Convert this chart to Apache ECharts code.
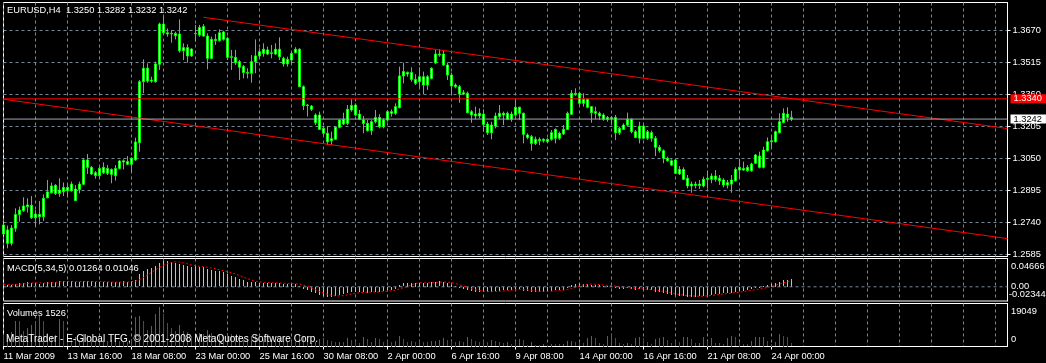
<!DOCTYPE html>
<html><head><meta charset="utf-8">
<script src="https://cdn.jsdelivr.net/npm/echarts@6/dist/echarts.min.js"></script>
<style>html,body{margin:0;padding:0;background:#000;}#c{width:1046px;height:363px;}</style>
</head><body><div id="c"></div>
<script>
const symbolName = 'EURUSD', timeframe = 'H4';
const tickLabels = ['11 Mar 2009','13 Mar 16:00','18 Mar 08:00','23 Mar 00:00','25 Mar 16:00','30 Mar 08:00','2 Apr 00:00','6 Apr 16:00','9 Apr 08:00','14 Apr 00:00','16 Apr 16:00','21 Apr 08:00','24 Apr 00:00'];
const priceTicks = [1.2585,1.2740,1.2895,1.3050,1.3205,1.3360,1.3515,1.3670];
const macdTicks = [-0.02344, 0, 0.04666];
const volTicks = [0, 19049];
const levelLine = 1.3340;
const bidLine = 1.3242;
const upperTrend = [[50,1.3735],[251,1.3196]];
const lowerTrend = [[0,1.3338],[251,1.2663]];

const opens = [
1.2729,1.2705,1.2640,1.2713,1.2780,1.2798,1.2818,1.2824,1.2764,1.2769,
1.2769,1.2861,1.2885,1.2921,1.2882,1.2890,1.2895,1.2895,1.2903,1.2901,
1.2926,1.3044,1.3008,1.2982,1.2968,1.3008,1.2979,1.2998,1.2968,1.3003,
1.3034,1.3036,1.3023,1.3044,1.3128,1.3423,1.3488,1.3426,1.3423,1.3507,
1.3702,1.3660,1.3654,1.3657,1.3654,1.3573,1.3588,1.3548,1.3655,1.3649,
1.3690,1.3644,1.3536,1.3628,1.3622,1.3664,1.3633,1.3541,1.3541,1.3520,
1.3496,1.3468,1.3464,1.3520,1.3548,1.3560,1.3577,1.3560,1.3557,1.3580,
1.3536,1.3509,1.3528,1.3563,1.3580,1.3399,1.3307,1.3305,1.3262,1.3262,
1.3197,1.3173,1.3137,1.3144,1.3202,1.3241,1.3221,1.3286,1.3310,1.3266,
1.3237,1.3221,1.3186,1.3229,1.3250,1.3205,1.3237,1.3278,1.3270,1.3297,
1.3451,1.3468,1.3467,1.3434,1.3423,1.3447,1.3407,1.3439,1.3514,1.3557,
1.3557,1.3504,1.3455,1.3407,1.3399,1.3363,1.3367,1.3262,1.3266,1.3257,
1.3266,1.3218,1.3176,1.3208,1.3254,1.3270,1.3270,1.3241,1.3262,1.3299,
1.3270,1.3165,1.3157,1.3124,1.3144,1.3137,1.3144,1.3144,1.3149,1.3173,
1.3170,1.3192,1.3265,1.3367,1.3367,1.3318,1.3338,1.3302,1.3270,1.3270,
1.3262,1.3241,1.3249,1.3250,1.3176,1.3192,1.3213,1.3241,1.3181,1.3149,
1.3208,1.3149,1.3176,1.3149,1.3105,1.3089,1.3052,1.3040,1.3044,1.2976,
1.2998,1.2955,1.2918,1.2927,1.2920,1.2918,1.2950,1.2950,1.2966,1.2955,
1.2947,1.2923,1.2927,1.2943,1.2995,1.3003,1.2992,1.2992,1.3028,1.3063,
1.3008,1.3089,1.3132,1.3132,1.3176,1.3225,1.3266,1.3250];
const closes = [
1.2685,1.2640,1.2714,1.2780,1.2801,1.2821,1.2826,1.2764,1.2782,1.2780,
1.2858,1.2889,1.2918,1.2882,1.2898,1.2911,1.2911,1.2927,1.2847,1.2927,
1.3044,1.3008,1.2976,1.2968,1.3003,1.2982,1.3003,1.2974,1.3003,1.3039,
1.3040,1.3023,1.3052,1.3131,1.3423,1.3488,1.3426,1.3431,1.3509,1.3702,
1.3660,1.3654,1.3657,1.3646,1.3573,1.3588,1.3548,1.3581,1.3657,1.3686,
1.3644,1.3536,1.3628,1.3622,1.3660,1.3628,1.3541,1.3544,1.3515,1.3493,
1.3467,1.3464,1.3520,1.3548,1.3568,1.3580,1.3557,1.3563,1.3580,1.3544,
1.3509,1.3531,1.3560,1.3580,1.3399,1.3307,1.3310,1.3289,1.3224,1.3192,
1.3173,1.3132,1.3147,1.3202,1.3237,1.3218,1.3289,1.3308,1.3262,1.3241,
1.3221,1.3186,1.3229,1.3250,1.3205,1.3237,1.3278,1.3270,1.3302,1.3451,
1.3472,1.3460,1.3434,1.3415,1.3447,1.3407,1.3447,1.3488,1.3557,1.3553,
1.3504,1.3455,1.3402,1.3399,1.3363,1.3370,1.3273,1.3278,1.3257,1.3270,
1.3216,1.3176,1.3213,1.3257,1.3270,1.3262,1.3241,1.3266,1.3299,1.3270,
1.3168,1.3153,1.3124,1.3144,1.3137,1.3144,1.3132,1.3176,1.3192,1.3149,
1.3192,1.3270,1.3367,1.3362,1.3318,1.3338,1.3299,1.3273,1.3278,1.3257,
1.3241,1.3249,1.3243,1.3176,1.3197,1.3213,1.3241,1.3181,1.3153,1.3208,
1.3149,1.3181,1.3149,1.3105,1.3089,1.3052,1.3040,1.3019,1.2979,1.2998,
1.2950,1.2918,1.2927,1.2920,1.2927,1.2950,1.2955,1.2966,1.2950,1.2943,
1.2923,1.2934,1.2947,1.2998,1.3008,1.2995,1.3008,1.3024,1.3068,1.3008,
1.3092,1.3132,1.3137,1.3181,1.3229,1.3270,1.3250,1.3242];
const lows = [
1.2680,1.2616,1.2629,1.2696,1.2745,1.2793,1.2789,1.2758,1.2724,1.2732,
1.2748,1.2858,1.2882,1.2874,1.2866,1.2869,1.2863,1.2890,1.2845,1.2882,
1.2922,1.2976,1.2971,1.2953,1.2955,1.2976,1.2971,1.2931,1.2944,1.2998,
1.2998,1.3019,1.2982,1.3040,1.3084,1.3367,1.3418,1.3418,1.3418,1.3480,
1.3649,1.3641,1.3612,1.3628,1.3564,1.3528,1.3515,1.3544,1.3617,1.3641,
1.3641,1.3483,1.3531,1.3601,1.3617,1.3622,1.3528,1.3480,1.3504,1.3431,
1.3439,1.3439,1.3418,1.3464,1.3536,1.3544,1.3552,1.3536,1.3552,1.3528,
1.3496,1.3496,1.3512,1.3560,1.3396,1.3286,1.3254,1.3281,1.3213,1.3189,
1.3165,1.3116,1.3116,1.3140,1.3197,1.3213,1.3213,1.3278,1.3257,1.3237,
1.3173,1.3181,1.3165,1.3221,1.3197,1.3197,1.3229,1.3254,1.3262,1.3294,
1.3415,1.3447,1.3423,1.3407,1.3391,1.3363,1.3383,1.3434,1.3509,1.3544,
1.3500,1.3431,1.3358,1.3391,1.3321,1.3358,1.3270,1.3224,1.3241,1.3245,
1.3181,1.3165,1.3144,1.3197,1.3241,1.3213,1.3237,1.3229,1.3254,1.3237,
1.3124,1.3144,1.3089,1.3116,1.3116,1.3128,1.3128,1.3137,1.3124,1.3141,
1.3165,1.3189,1.3262,1.3354,1.3310,1.3302,1.3294,1.3224,1.3241,1.3237,
1.3234,1.3229,1.3221,1.3140,1.3165,1.3189,1.3205,1.3173,1.3149,1.3124,
1.3144,1.3141,1.3132,1.3063,1.3079,1.3028,1.3036,1.3014,1.2976,1.2971,
1.2947,1.2906,1.2885,1.2906,1.2903,1.2911,1.2906,1.2931,1.2939,1.2923,
1.2911,1.2906,1.2885,1.2939,1.2955,1.2992,1.2987,1.2987,1.3024,1.3003,
1.3003,1.3084,1.3100,1.3128,1.3173,1.3221,1.3229,1.3232];
const highs = [
1.2737,1.2726,1.2729,1.2810,1.2818,1.2863,1.2858,1.2869,1.2801,1.2845,
1.2877,1.2947,1.2934,1.2927,1.2955,1.2935,1.2926,1.2939,1.2922,1.2939,
1.3047,1.3073,1.3015,1.2990,1.3011,1.3032,1.3019,1.3003,1.3019,1.3044,
1.3047,1.3063,1.3057,1.3152,1.3431,1.3531,1.3512,1.3447,1.3520,1.3709,
1.3738,1.3681,1.3673,1.3665,1.3725,1.3609,1.3604,1.3585,1.3698,1.3698,
1.3702,1.3657,1.3641,1.3654,1.3677,1.3670,1.3641,1.3577,1.3577,1.3528,
1.3504,1.3488,1.3552,1.3628,1.3585,1.3609,1.3593,1.3601,1.3609,1.3638,
1.3544,1.3544,1.3568,1.3590,1.3585,1.3405,1.3315,1.3310,1.3270,1.3278,
1.3208,1.3208,1.3181,1.3208,1.3240,1.3273,1.3310,1.3338,1.3318,1.3286,
1.3257,1.3237,1.3237,1.3286,1.3266,1.3245,1.3286,1.3289,1.3318,1.3496,
1.3515,1.3472,1.3493,1.3459,1.3493,1.3472,1.3455,1.3493,1.3577,1.3580,
1.3577,1.3515,1.3467,1.3415,1.3407,1.3383,1.3375,1.3286,1.3302,1.3294,
1.3289,1.3229,1.3229,1.3273,1.3310,1.3278,1.3278,1.3278,1.3338,1.3302,
1.3273,1.3173,1.3165,1.3157,1.3153,1.3149,1.3149,1.3189,1.3197,1.3181,
1.3213,1.3278,1.3383,1.3391,1.3375,1.3367,1.3342,1.3305,1.3302,1.3278,
1.3270,1.3257,1.3257,1.3262,1.3205,1.3221,1.3273,1.3245,1.3189,1.3229,
1.3213,1.3189,1.3186,1.3160,1.3116,1.3095,1.3060,1.3047,1.3047,1.3014,
1.3008,1.2971,1.2939,1.2939,1.2947,1.2963,1.2992,1.2979,1.2995,1.2971,
1.2955,1.2947,1.2971,1.3008,1.3047,1.3036,1.3019,1.3031,1.3073,1.3084,
1.3108,1.3153,1.3165,1.3186,1.3270,1.3294,1.3299,1.3282];
const macdMain = [
0.0040,0.0030,0.0035,0.0050,0.0060,0.0070,0.0075,0.0065,0.0055,0.0050,
0.0060,0.0075,0.0085,0.0085,0.0088,0.0090,0.0090,0.0092,0.0075,0.0078,
0.0095,0.0098,0.0090,0.0080,0.0080,0.0078,0.0078,0.0072,0.0075,0.0082,
0.0088,0.0085,0.0090,0.0115,0.0205,0.0265,0.0290,0.0310,0.0340,0.0400,
0.0430,0.0425,0.0415,0.0400,0.0375,0.0360,0.0340,0.0330,0.0335,0.0330,
0.0320,0.0290,0.0280,0.0265,0.0255,0.0240,0.0210,0.0185,0.0160,0.0130,
0.0105,0.0085,0.0075,0.0072,0.0070,0.0068,0.0065,0.0062,0.0062,0.0058,
0.0050,0.0048,0.0050,0.0052,0.0020,-0.0025,-0.0055,-0.0075,-0.0105,-0.0130,
-0.0145,-0.0160,-0.0160,-0.0150,-0.0135,-0.0120,-0.0105,-0.0090,-0.0088,-0.0085,
-0.0088,-0.0092,-0.0085,-0.0078,-0.0075,-0.0070,-0.0055,-0.0045,-0.0030,0.0025,
0.0055,0.0065,0.0068,0.0065,0.0068,0.0062,0.0065,0.0075,0.0085,0.0090,
0.0080,0.0060,0.0030,0.0010,-0.0015,-0.0025,-0.0055,-0.0068,-0.0075,-0.0078,
-0.0082,-0.0085,-0.0080,-0.0068,-0.0058,-0.0055,-0.0055,-0.0050,-0.0035,-0.0035,
-0.0060,-0.0072,-0.0082,-0.0080,-0.0078,-0.0075,-0.0072,-0.0062,-0.0055,-0.0052,
-0.0042,-0.0015,0.0025,0.0045,0.0048,0.0050,0.0045,0.0035,0.0030,0.0025,
0.0018,0.0012,0.0008,-0.0015,-0.0025,-0.0025,-0.0015,-0.0030,-0.0045,-0.0040,
-0.0050,-0.0050,-0.0055,-0.0075,-0.0088,-0.0105,-0.0115,-0.0125,-0.0140,-0.0145,
-0.0150,-0.0158,-0.0160,-0.0158,-0.0152,-0.0145,-0.0135,-0.0125,-0.0118,-0.0110,
-0.0105,-0.0098,-0.0092,-0.0078,-0.0068,-0.0058,-0.0050,-0.0040,-0.0020,-0.0015,
0.0005,0.0030,0.0045,0.0060,0.0085,0.0105,0.0118,0.01264];
const macdSignal = [
0.0042,0.0040,0.0038,0.0040,0.0043,0.0049,0.0054,0.0064,0.0065,0.0063,
0.0061,0.0061,0.0065,0.0072,0.0081,0.0085,0.0088,0.0089,0.0087,0.0085,
0.0086,0.0088,0.0087,0.0087,0.0089,0.0086,0.0081,0.0078,0.0077,0.0077,
0.0079,0.0080,0.0086,0.0092,0.0117,0.0153,0.0193,0.0237,0.0282,0.0321,
0.0354,0.0381,0.0402,0.0414,0.0409,0.0395,0.0378,0.0361,0.0348,0.0339,
0.0331,0.0321,0.0309,0.0297,0.0282,0.0266,0.0250,0.0231,0.0210,0.0185,
0.0158,0.0133,0.0111,0.0093,0.0081,0.0074,0.0070,0.0067,0.0065,0.0063,
0.0059,0.0056,0.0054,0.0052,0.0044,0.0029,0.0008,-0.0017,-0.0048,-0.0078,
-0.0102,-0.0123,-0.0140,-0.0149,-0.0150,-0.0145,-0.0134,-0.0120,-0.0108,-0.0098,
-0.0091,-0.0089,-0.0088,-0.0086,-0.0084,-0.0080,-0.0073,-0.0065,-0.0055,-0.0035,
-0.0016,0.0006,0.0031,0.0056,0.0064,0.0066,0.0066,0.0067,0.0071,0.0077,
0.0079,0.0078,0.0069,0.0054,0.0033,0.0012,-0.0011,-0.0032,-0.0048,-0.0060,
-0.0072,-0.0078,-0.0080,-0.0079,-0.0075,-0.0069,-0.0063,-0.0057,-0.0051,-0.0046,
-0.0047,-0.0050,-0.0057,-0.0066,-0.0074,-0.0077,-0.0077,-0.0073,-0.0068,-0.0063,
-0.0057,-0.0045,-0.0028,-0.0008,0.0012,0.0031,0.0043,0.0045,0.0042,0.0037,
0.0031,0.0024,0.0019,0.0010,0.0000,-0.0009,-0.0014,-0.0022,-0.0026,-0.0031,
-0.0036,-0.0044,-0.0048,-0.0055,-0.0064,-0.0075,-0.0088,-0.0102,-0.0115,-0.0126,
-0.0137,-0.0144,-0.0151,-0.0154,-0.0156,-0.0155,-0.0150,-0.0143,-0.0135,-0.0127,
-0.0119,-0.0111,-0.0105,-0.0097,-0.0088,-0.0079,-0.0069,-0.0059,-0.0047,-0.0037,
-0.0026,-0.0012,0.0005,0.0025,0.0045,0.0065,0.0083,0.01046];
const volumes = [
5000,5700,6500,11500,11200,7000,8000,9500,11500,13500,
11500,6000,4500,5000,12000,11500,4500,3500,4000,3000,
5500,5000,3500,2500,3000,2800,2500,3000,2600,2400,
2200,2000,3500,13000,13500,11500,7500,9000,14500,17300,
14500,10500,8000,7000,9500,7000,6500,4500,5000,6000,
5500,7500,6000,4500,5000,4000,6000,5500,4500,5000,
3500,3000,4500,5000,3200,2800,2500,2800,2600,3500,
2500,2300,2500,2000,4500,4000,3000,1500,2000,3500,
3800,3000,2500,2000,2200,2000,3600,3000,2500,1500,
4000,3500,2000,3800,3200,2200,2800,2000,2500,4500,
3500,2000,2500,2000,2800,2200,1800,2500,2500,3000,
3600,2800,2500,2000,2400,1800,4000,3500,2500,2000,
3000,2200,2800,2400,2000,1500,1800,1300,2500,3300,
3000,800,1800,750,700,900,800,1200,1000,900,
1050,2250,2300,1800,1950,1500,3600,4500,3600,1500,
1300,4800,5400,3600,1500,1200,1500,1000,3900,4300,
3600,1800,1200,3300,3900,4300,2800,1500,2850,2000,
4000,4050,3400,1500,1550,4000,2500,3900,1500,1400,
900,3600,4800,4000,2000,1000,900,2500,4000,4050,
4300,2400,1200,1950,5400,4800,4300,1526];

const slotCount = 252;
const FONT = '"Liberation Sans", Arial, sans-serif';
const FS = 9.3;
const GRIDC = '#778899';
const slots = Array.from({length: slotCount}, (_, i) => String(i));
const lastSlot = slotCount - 1;
const ohlc = opens.map((o, i) => [o, closes[i], lows[i], highs[i]]);

const gridBase = {left: 3.5, width: 1004, show: true, borderColor: '#ffffff', borderWidth: 1, backgroundColor: 'transparent'};
function xAx(idx, bottom) {
  return {
    type: 'category', gridIndex: idx, data: slots, boundaryGap: false,
    axisLine: {show: bottom, lineStyle: {color: '#ffffff'}},
    axisTick: {show: bottom, length: 3, interval: (i) => i % 16 === 0 && i / 16 < tickLabels.length, lineStyle: {color: '#ffffff'}},
    axisLabel: {show: bottom, interval: (i) => i % 16 === 0 && i / 16 < tickLabels.length,
      formatter: (v) => tickLabels[Math.round(Number(v) / 16)] || '',
      align: 'left', color: '#ffffff', fontSize: FS, fontFamily: FONT, margin: 5},
    splitLine: {show: true, interval: 7, lineStyle: {color: GRIDC, type: [3, 3], width: 1}}
  };
}
function hLine(value, xi, yi, color, type, endLabel) {
  const s = {type: 'line', xAxisIndex: xi, yAxisIndex: yi, data: [[0, value], [lastSlot, value]], symbol: 'none', z: 5,
    silent: true, lineStyle: {color: color, width: 1, type: type}};
  if (endLabel) s.endLabel = Object.assign({show: true, distance: 3, formatter: value.toFixed(4),
    fontSize: FS, fontFamily: FONT, padding: [0, 4, 0, 3], lineHeight: 9}, endLabel);
  return s;
}
// 1-px histogram bars, snapped to whole pixels, positioned by the axes
function histSeries(xi, yi, values, colorOf) {
  return {
    type: 'custom', xAxisIndex: xi, yAxisIndex: yi, silent: true, z: 3,
    data: values.map((v, i) => [i, v]), encode: {x: 0, y: 1},
    renderItem: (params, api) => {
      const i = api.value(0), v = api.value(1);
      const top = api.coord([i, v]), base = api.coord([i, 0]);
      const x = Math.round(top[0] - 0.5);
      const y0 = Math.round(Math.min(top[1], base[1]));
      const h = Math.max(1, Math.round(Math.abs(base[1] - top[1])));
      return {type: 'rect', shape: {x: x, y: y0, width: 1, height: h}, style: {fill: colorOf(params.dataIndex)}};
    }
  };
}
const chart = echarts.init(document.getElementById('c'));
const option = {
  backgroundColor: '#000000',
  animation: false,
  grid: [
    Object.assign({top: 2.5, height: 254}, gridBase),
    Object.assign({top: 258.5, height: 42.5}, gridBase),
    Object.assign({top: 303.5, height: 43}, gridBase)
  ],
  xAxis: [xAx(0, false), xAx(1, false), xAx(2, true)],
  yAxis: [
    {type: 'value', gridIndex: 0, position: 'right', min: 1.25763, max: 1.38066,
     axisLine: {show: true, lineStyle: {color: '#ffffff'}},
     axisTick: {show: true, length: 3, customValues: priceTicks, lineStyle: {color: '#ffffff'}},
     axisLabel: {customValues: priceTicks, color: '#ffffff', fontSize: FS, fontFamily: FONT, margin: 5, formatter: v => v.toFixed(4)},
     splitLine: {show: true, lineStyle: {color: GRIDC, type: [3, 3], width: 1}}},
    {type: 'value', gridIndex: 1, position: 'right', min: macdTicks[0], max: macdTicks[2],
     axisLine: {show: true, lineStyle: {color: '#ffffff'}},
     axisTick: {show: false}, axisLabel: {show: false}, splitLine: {show: false}},
    {type: 'value', gridIndex: 2, position: 'right', min: volTicks[0], max: volTicks[1],
     axisLine: {show: true, lineStyle: {color: '#ffffff'}},
     axisTick: {show: false}, axisLabel: {show: false}, splitLine: {show: false}}
  ],
  series: [
    {type: 'candlestick', xAxisIndex: 0, yAxisIndex: 0, data: ohlc, barWidth: 2, z: 3,
     itemStyle: {color: '#ffffff', color0: '#ffffff', borderColor: '#00ff00', borderColor0: '#00ff00', borderWidth: 1}},
    {type: 'line', xAxisIndex: 0, yAxisIndex: 0, data: upperTrend, symbol: 'none', z: 5, silent: true,
     lineStyle: {color: '#ff0000', width: 1}},
    {type: 'line', xAxisIndex: 0, yAxisIndex: 0, data: lowerTrend, symbol: 'none', z: 5, silent: true,
     lineStyle: {color: '#ff0000', width: 1}},
    hLine(levelLine, 0, 0, '#ff0000', 'solid', {color: '#ffffff', backgroundColor: '#ff0000'}),
    hLine(bidLine, 0, 0, '#a0a8b0', 'solid', {color: '#000000', backgroundColor: '#ffffff'}),
    hLine(0, 1, 1, GRIDC, [3, 3], null),
    histSeries(1, 1, macdMain, () => '#c0c0c0'),
    {type: 'line', xAxisIndex: 1, yAxisIndex: 1, data: macdSignal, symbol: 'none', z: 4,
     lineStyle: {color: '#ff0000', width: 1, type: [2, 2]}},
    histSeries(2, 2, volumes, (i) => (i > 0 && volumes[i] < volumes[i - 1]) ? '#ff0000' : '#00a000')
  ]
};
chart.setOption(option);

const yPx = (ai, v) => chart.convertToPixel({yAxisIndex: ai}, v);
const borderX = chart.convertToPixel({xAxisIndex: 0}, String(lastSlot));
function txt(text, x, y, size) {
  return {type: 'text', x: x, y: y, z: 100, silent: true,
    style: {text: text, fill: '#ffffff', font: (size || FS) + 'px ' + FONT, textAlign: 'left', textVerticalAlign: 'middle', align: 'left', verticalAlign: 'middle'}};
}
const n = closes.length - 1;
const header = symbolName + ',' + timeframe + '  ' + [opens[n], highs[n], lows[n], closes[n]].map(v => v.toFixed(4)).join(' ');
const subX = borderX + 3.5;
const g = [
  txt(header, 7, yPx(0, 1.38066) + 8),
  txt('MACD(5,34,5) ' + macdMain[n].toFixed(5) + ' ' + macdSignal[n].toFixed(5), 7, yPx(1, macdTicks[2]) + 9.5),
  txt('Volumes ' + volumes[n], 7, yPx(2, volTicks[1]) + 9.5),
  txt('MetaTrader - E-Global TFG, \u00a9 2001-2008 MetaQuotes Software Corp.', 6, yPx(2, 0) - 7.5, 10),
  txt(macdTicks[2].toFixed(5), subX, yPx(1, macdTicks[2]) + 7.5),
  txt(macdTicks[1].toFixed(2), subX, yPx(1, macdTicks[1])),
  txt(macdTicks[0].toFixed(5), subX - 2, yPx(1, macdTicks[0]) - 6.5),
  txt(String(volTicks[1]), subX, yPx(2, volTicks[1]) + 7.5),
  txt(String(volTicks[0]), subX, yPx(2, volTicks[0]) - 7)
];
chart.setOption({graphic: g});
</script></body></html>
